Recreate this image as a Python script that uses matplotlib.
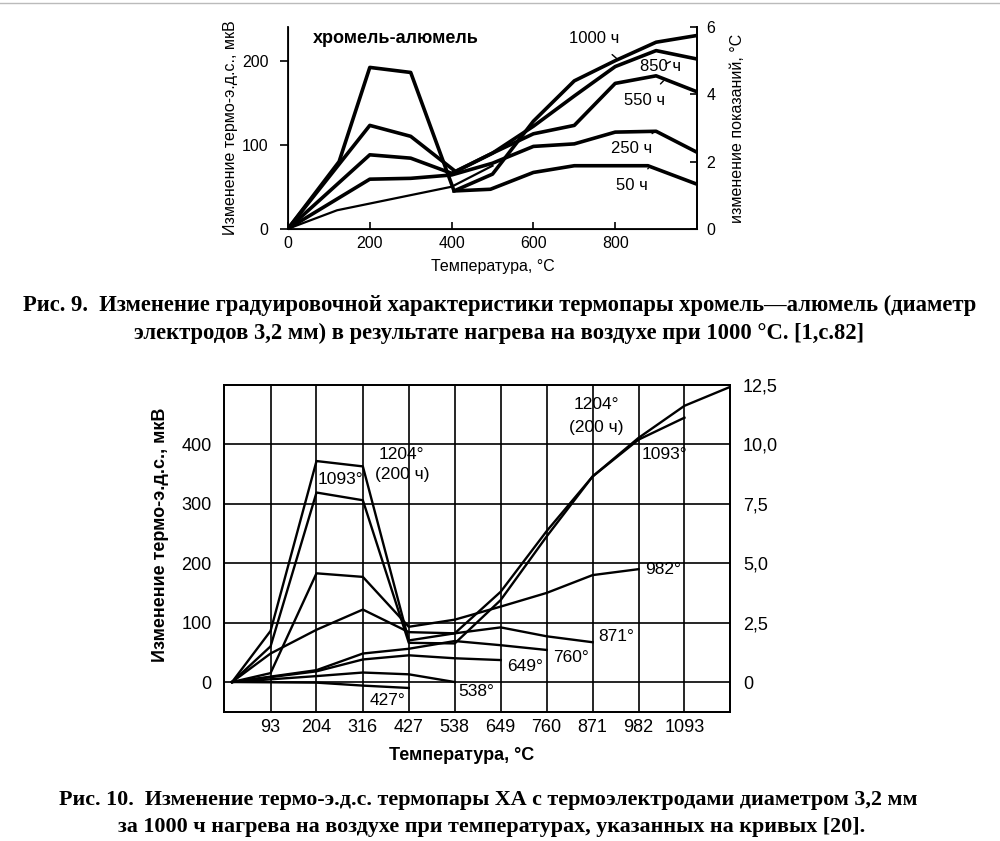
import matplotlib
matplotlib.use("Agg")
import matplotlib.pyplot as plt
from matplotlib.lines import Line2D

plt.rcParams['font.family'] = ['Liberation Sans', 'DejaVu Sans']

# ---- Fig. 9 data (temperature, degC -> change of emf, uV) ----
x_1000h = [0, 125, 200, 300, 406, 500, 600, 700, 800, 900, 1000]
y_1000h = [0, 80, 192, 186, 45, 65, 128, 176, 200, 222, 230]
x_850h = [0, 200, 300, 410, 500, 600, 700, 800, 900, 1000]
y_850h = [0, 123, 110, 68, 90, 122, 158, 193, 212, 202]
x_550h = [0, 200, 300, 400, 500, 600, 700, 800, 900, 1000]
y_550h = [0, 88, 84, 66, 90, 113, 123, 173, 182, 163]
x_250h = [0, 200, 300, 400, 500, 600, 700, 800, 900, 1000]
y_250h = [0, 59, 60, 64, 78, 98, 101, 115, 116, 91]
x_50h = [406, 495, 600, 700, 800, 880, 1000]
y_50h = [45, 47, 67, 75, 75, 75, 53]
x_thin = [0, 120, 200, 300, 400, 500]
y_thin = [0, 22, 30, 40, 50, 75]

# ---- Fig. 10 data ----
temp_ticks = [93, 204, 316, 427, 538, 649, 760, 871, 982, 1093]
t1204 = [0, 93, 204, 316, 427, 538, 649, 760, 871, 982, 1093, 1204]
e1204 = [0, 86, 372, 363, 70, 82, 152, 254, 346, 411, 465, 497]
t1093 = [0, 93, 204, 316, 427, 538, 649, 760, 871, 982, 1093]
e1093 = [0, 60, 319, 306, 66, 65, 138, 245, 346, 408, 445]
t982 = [0, 93, 204, 316, 427, 538, 649, 760, 871, 982]
e982 = [0, 15, 183, 177, 93, 105, 127, 150, 180, 190]
t871 = [0, 93, 204, 316, 427, 538, 649, 760, 871]
e871 = [0, 48, 88, 122, 84, 82, 92, 77, 67]
t760 = [0, 204, 316, 427, 538, 649, 760]
e760 = [0, 20, 48, 56, 69, 62, 54]
t649 = [0, 204, 316, 427, 538, 649]
e649 = [0, 18, 38, 45, 40, 37]
t538 = [0, 204, 316, 427, 538]
e538 = [0, 10, 16, 13, 0]
t427 = [0, 204, 316, 427]
e427 = [0, -1, -6, -10]

fig = plt.figure(figsize=(10, 8.41), dpi=100)

# faint table border at the top of the page
fig.add_artist(Line2D([0, 1], [0.997, 0.997], color='#bbbbbb', lw=1))

# ================= Fig. 9 =================
ax1 = fig.add_axes([0.288, 0.728, 0.409, 0.2398])
ax1.plot(x_1000h, y_1000h, color='black', lw=2.6)
ax1.plot(x_850h, y_850h, color='black', lw=2.6)
ax1.plot(x_550h, y_550h, color='black', lw=2.6)
ax1.plot(x_250h, y_250h, color='black', lw=2.6)
ax1.plot(x_50h, y_50h, color='black', lw=2.6)
ax1.plot(x_thin, y_thin, color='black', lw=1.6)
ax1.set_xlim(0, 1000)
ax1.set_ylim(0, 240)
ax1.set_xticks([0, 200, 400, 600, 800])
ax1.set_yticks([0, 100, 200])
ax1.tick_params(axis='x', direction='in', length=5, width=1.2, labelsize=11.5, pad=5)
ax1.tick_params(axis='y', direction='out', length=6, width=1.2, labelsize=11.5, pad=8)
for s in ['left', 'bottom', 'right']:
    ax1.spines[s].set_linewidth(1.3)
ax1.spines['top'].set_visible(False)
ax1.set_xlabel('Температура, °С', fontsize=11.5, labelpad=6)
ax1.set_ylabel('Изменение термо-э.д.с., мкВ', fontsize=11.5, labelpad=3)
ax1.text(264, 226, 'хромель-алюмель', fontsize=13, fontweight='bold',
         ha='center', va='center')

ax1.annotate('1000 ч', xy=(805, 202), xytext=(748, 226), fontsize=12,
             ha='center', va='center',
             arrowprops=dict(arrowstyle='-', lw=1, color='black', shrinkA=6, shrinkB=0))
ax1.annotate('850 ч', xy=(935, 199), xytext=(912, 193), fontsize=12,
             ha='center', va='center',
             arrowprops=dict(arrowstyle='-', lw=1, color='black', shrinkA=4, shrinkB=0))
ax1.annotate('550 ч', xy=(918, 176), xytext=(872, 153), fontsize=12,
             ha='center', va='center',
             arrowprops=dict(arrowstyle='-', lw=1, color='black', shrinkA=6, shrinkB=0))
ax1.annotate('250 ч', xy=(895, 115), xytext=(841, 95), fontsize=12,
             ha='center', va='center',
             arrowprops=dict(arrowstyle='-', lw=1, color='black', shrinkA=6, shrinkB=0))
ax1.annotate('50 ч', xy=(881, 72), xytext=(841, 52), fontsize=12,
             ha='center', va='center',
             arrowprops=dict(arrowstyle='-', lw=1, color='black', shrinkA=6, shrinkB=0))

ax1r = ax1.twinx()
ax1r.set_ylim(0, 6)
ax1r.set_yticks([0, 2, 4, 6])
ax1r.tick_params(axis='y', direction='in', length=5, width=1.2, labelsize=11.5, pad=7)
ax1r.spines['top'].set_visible(False)
ax1r.spines['right'].set_linewidth(1.3)
ax1r.set_ylabel('изменение показаний, °С', fontsize=11.5, labelpad=10)

fig.text(0.5, 1 - 305 / 841,
         'Рис. 9.  Изменение градуировочной характеристики термопары хромель—алюмель (диаметр',
         ha='center', va='center', family='Liberation Serif', fontweight='bold', fontsize=16.3)
fig.text(0.499, 1 - 333 / 841,
         'электродов 3,2 мм) в результате нагрева на воздухе при 1000 °С. [1,с.82]',
         ha='center', va='center', family='Liberation Serif', fontweight='bold', fontsize=16.3)

# ================= Fig. 10 =================
ax2 = fig.add_axes([0.2242, 0.1537, 0.5062, 0.3885])
for t, e in [(t1204, e1204), (t1093, e1093), (t982, e982), (t871, e871),
             (t760, e760), (t649, e649), (t538, e538), (t427, e427)]:
    ax2.plot(t, e, color='black', lw=1.7)
ax2.set_xlim(-19, 1204)
ax2.set_ylim(-50, 500)
ax2.set_xticks(temp_ticks)
ax2.set_yticks([0, 100, 200, 300, 400])
ax2.grid(True, color='black', lw=1.2)
ax2.set_axisbelow(True)
ax2.tick_params(axis='x', length=0, labelsize=13, pad=5)
ax2.tick_params(axis='y', length=0, labelsize=13, pad=9)
for s in ax2.spines.values():
    s.set_linewidth(1.3)
ax2.set_xlabel('Температура, °С', fontsize=13, fontweight='bold', labelpad=8, x=0.47)
ax2.set_ylabel('Изменение термо-э.д.с., мкВ', fontsize=13, fontweight='bold',
               labelpad=9, y=0.54)

lbl = dict(fontsize=12.5, ha='center', va='center')
ax2.text(880, 467, '1204°', **lbl)
ax2.text(880, 429, '(200 ч)', **lbl)
ax2.text(410, 383, '1204°', **lbl)
ax2.text(410, 349, '(200 ч)', **lbl)
ax2.text(261, 341, '1093°', **lbl)
ax2.text(1045, 383, '1093°', **lbl)
ax2.text(1042, 190, '982°', **lbl)
ax2.text(927, 76, '871°', **lbl)
ax2.text(818, 42, '760°', **lbl)
ax2.text(708, 26, '649°', **lbl)
ax2.text(591, -16, '538°', **lbl)
ax2.text(376, -31, '427°', **lbl)

ax2r = ax2.twinx()
ax2r.set_ylim(-1.25, 12.5)
ax2r.set_yticks([0, 2.5, 5, 7.5, 10, 12.5])
ax2r.set_yticklabels(['0', '2,5', '5,0', '7,5', '10,0', '12,5'])
ax2r.tick_params(length=0, labelsize=13, pad=9)
for s in ax2r.spines.values():
    s.set_linewidth(1.3)

fig.text(0.4885, 1 - 800 / 841,
         'Рис. 10.  Изменение термо-э.д.с. термопары ХА с термоэлектродами диаметром 3,2 мм',
         ha='center', va='center', family='Liberation Serif', fontweight='bold', fontsize=15.8)
fig.text(0.4915, 1 - 827 / 841,
         'за 1000 ч нагрева на воздухе при температурах, указанных на кривых [20].',
         ha='center', va='center', family='Liberation Serif', fontweight='bold', fontsize=15.8)

fig.savefig('out.png', dpi=100)
